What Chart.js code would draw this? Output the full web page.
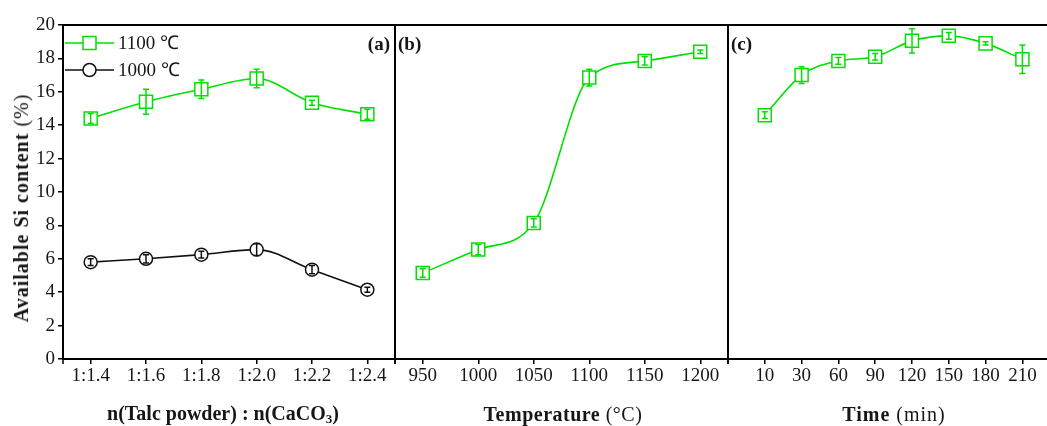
<!DOCTYPE html>
<html><head><meta charset="utf-8">
<script src="https://cdn.jsdelivr.net/npm/chart.js@4/dist/chart.umd.min.js"></script>
<style>
html,body{margin:0;padding:0;background:#fff;}
#wrap{position:relative;width:1047px;height:426px;overflow:hidden;font-family:"Liberation Serif",serif;color:#161616;background:#fff;}
canvas{position:absolute;left:0;top:0;}
.t{position:absolute;font-size:20px;white-space:nowrap;transform:translate(-50%,-50%);line-height:1;}
.t sub{font-size:13px;vertical-align:-3px;}
.p{font-size:19px;}
</style></head><body>
<div id="wrap">
<canvas id="ca" width="1047" height="426"></canvas>
<canvas id="cb" width="1047" height="426"></canvas>
<canvas id="cc" width="1050" height="426"></canvas>
<div class="t" style="left:21px;top:208px;letter-spacing:1px;transform:translate(-50%,-50%) rotate(-90deg)"><b>Available Si content</b> (%)</div>
<div class="t" style="left:223px;top:414px"><b>n(Talc powder) : n(CaCO<sub>3</sub>)</b></div>
<div class="t" style="left:563px;top:414px;letter-spacing:0.5px"><b>Temperature</b> (°C)</div>
<div class="t" style="left:894px;top:414px;letter-spacing:1px"><b>Time</b> (min)</div>
<div class="t p" style="left:390px;top:43px;transform:translate(-100%,-50%)"><b>(a)</b></div>
<div class="t p" style="left:398px;top:43px;transform:translate(0,-50%)"><b>(b)</b></div>
<div class="t p" style="left:731px;top:43px;transform:translate(0,-50%)"><b>(c)</b></div>
</div>
<script>
// ---- data ----
const ratioLabels = ['1:1.4','1:1.6','1:1.8','1:2.0','1:2.2','1:2.4'];
const si1100 = [14.4, 15.4, 16.15, 16.8, 15.35, 14.65];
const err1100 = [0.3, 0.75, 0.55, 0.55, 0.15, 0.3];
const si1000 = [5.8, 6.0, 6.25, 6.55, 5.35, 4.15];
const err1000 = [0.2, 0.25, 0.2, 0.35, 0.25, 0.15];
const tempLabels = ['950','1000','1050','1100','1150','1200'];
const siTemp = [5.15, 6.55, 8.15, 16.85, 17.85, 18.4];
const errTemp = [0.25, 0.3, 0.25, 0.5, 0.25, 0.1];
const timeLabels = ['10','30','60','90','120','150','180','210'];
const siTime = [14.6, 17.0, 17.85, 18.1, 19.05, 19.35, 18.9, 17.95];
const errTime = [0.2, 0.5, 0.2, 0.2, 0.72, 0.2, 0.1, 0.85];
const legendLabels = ['1100 ℃', '1000 ℃'];

const GREEN = '#00e000';
const BLACK = '#111';
const FONT = {family:'"Liberation Serif", serif', size:19};
const TXT = '#161616';

const errorBars = {
  id:'errorBars',
  afterDatasetsDraw(chart){
    const ctx = chart.ctx, ys = chart.scales.y;
    chart.data.datasets.forEach((ds, di) => {
      if (!ds.errors) return;
      const meta = chart.getDatasetMeta(di);
      ctx.save();
      ctx.strokeStyle = ds.borderColor; ctx.lineWidth = 1.5;
      meta.data.forEach((pt, i) => {
        const v = ds.data[i], e = ds.errors[i];
        const val = typeof v === 'object' ? v.y : v;
        const y1 = ys.getPixelForValue(val + e), y2 = ys.getPixelForValue(val - e);
        ctx.beginPath();
        ctx.moveTo(pt.x, y1); ctx.lineTo(pt.x, y2);
        ctx.moveTo(pt.x - 3, y1); ctx.lineTo(pt.x + 3, y1);
        ctx.moveTo(pt.x - 3, y2); ctx.lineTo(pt.x + 3, y2);
        ctx.stroke();
      });
      ctx.restore();
    });
  }
};
const frame = {
  id:'frame',
  afterDraw(chart){
    const {left, right, top, bottom} = chart.chartArea, ctx = chart.ctx;
    ctx.save(); ctx.strokeStyle = '#000'; ctx.lineWidth = 2;
    ctx.strokeRect(left, top, right - left, bottom - top);
    ctx.beginPath();
    ctx.moveTo(left, bottom); ctx.lineTo(left, bottom + 5);
    ctx.moveTo(right, bottom); ctx.lineTo(right, bottom + 5);
    ctx.lineWidth = 1.5; ctx.stroke();
    ctx.restore();
  }
};
const lineLegend = {
  id:'lineLegend',
  afterDraw(chart){
    const ctx = chart.ctx;
    const left = chart.chartArea.left;
    const rows = [43, 70];
    chart.data.datasets.forEach((ds, i) => {
      const y = rows[i], x0 = left + 2, x1 = left + 51, xm = (x0 + x1) / 2;
      ctx.save();
      ctx.strokeStyle = ds.borderColor; ctx.lineWidth = ds.borderWidth;
      ctx.beginPath(); ctx.moveTo(x0, y); ctx.lineTo(x1, y); ctx.stroke();
      ctx.fillStyle = '#fff'; ctx.lineWidth = 1.5;
      ctx.beginPath();
      if (ds.pointStyle === 'rect') ctx.rect(xm - 6.5, y - 6.5, 13, 13);
      else ctx.arc(xm, y, 6.5, 0, Math.PI * 2);
      ctx.fill(); ctx.stroke();
      ctx.fillStyle = TXT; ctx.font = '19px "Liberation Serif", serif';
      ctx.textBaseline = 'middle'; ctx.textAlign = 'left';
      ctx.fillText(legendLabels[i], x1 + 4, y + 1);
      ctx.restore();
    });
  }
};

function ds(label, data, errors, color, style){
  return {label, data, errors, borderColor: color, borderWidth: 1.6,
    pointStyle: style, pointRadius: style === 'rect' ? 9.2 : 6.5,
    pointBorderWidth: 1.5, pointBackgroundColor: '#fff', pointBorderColor: color,
    cubicInterpolationMode: 'monotone', fill: false};
}
function gridOpts(){ return {drawOnChartArea:false, drawTicks:true, tickLength:5, color:'#000', lineWidth:1.5, offset:false}; }
function fixX(s){ s.height = 67; s.paddingLeft = 0; s.paddingRight = 0; }
function yScale(show){
  return {min:0, max:20, display: show,
    ticks:{stepSize:2, font:FONT, color:TXT, padding:3},
    grid: gridOpts(), border:{display:false},
    afterFit(s){ if (show) { s.width = 63; s.paddingTop = 0; s.paddingBottom = 0; } }};
}
function xCat(){
  return {type:'category', offset:true, grid: gridOpts(), border:{display:false},
    ticks:{font:FONT, color:TXT, padding:1, maxRotation:0, autoSkip:false},
    afterFit: fixX};
}
const common = (pad) => ({responsive:false, animation:false, events:[],
  layout:{padding:pad, autoPadding:false},
  plugins:{legend:{display:false}, tooltip:{enabled:false}}});

new Chart(document.getElementById('ca'), {
  type:'line',
  data:{labels: ratioLabels, datasets:[
    ds(legendLabels[0], si1100, err1100, GREEN, 'rect'),
    ds(legendLabels[1], si1000, err1000, BLACK, 'circle')]},
  options:Object.assign(common({top:25, left:0, right:1047-395, bottom:0}), {
    scales:{x: xCat(), y: yScale(true)}}),
  plugins:[errorBars, frame, lineLegend]
});

new Chart(document.getElementById('cb'), {
  type:'line',
  data:{labels: tempLabels, datasets:[ds('1100 ℃', siTemp, errTemp, GREEN, 'rect')]},
  options:Object.assign(common({top:25, left:395, right:1047-728, bottom:0}), {
    scales:{x: xCat(), y: yScale(false)}}),
  plugins:[errorBars, frame]
});

new Chart(document.getElementById('cc'), {
  type:'line',
  data:{datasets:[ds('1100 ℃', siTime.map((v,i)=>({x:i+1, y:v})), errTime, GREEN, 'rect')]},
  options:Object.assign(common({top:25, left:728, right:0, bottom:0}), {
    scales:{
      x:{type:'linear', min:0, max:(1050-728)/36.8, grid: gridOpts(), border:{display:false},
        afterBuildTicks(s){ s.ticks = timeLabels.map((_,i)=>({value:i+1})); },
        ticks:{font:FONT, color:TXT, padding:1, maxRotation:0, autoSkip:false,
          callback:(v)=>timeLabels[v-1]},
        afterFit: fixX},
      y: yScale(false)}}),
  plugins:[errorBars, frame]
});
</script>
</body></html>
